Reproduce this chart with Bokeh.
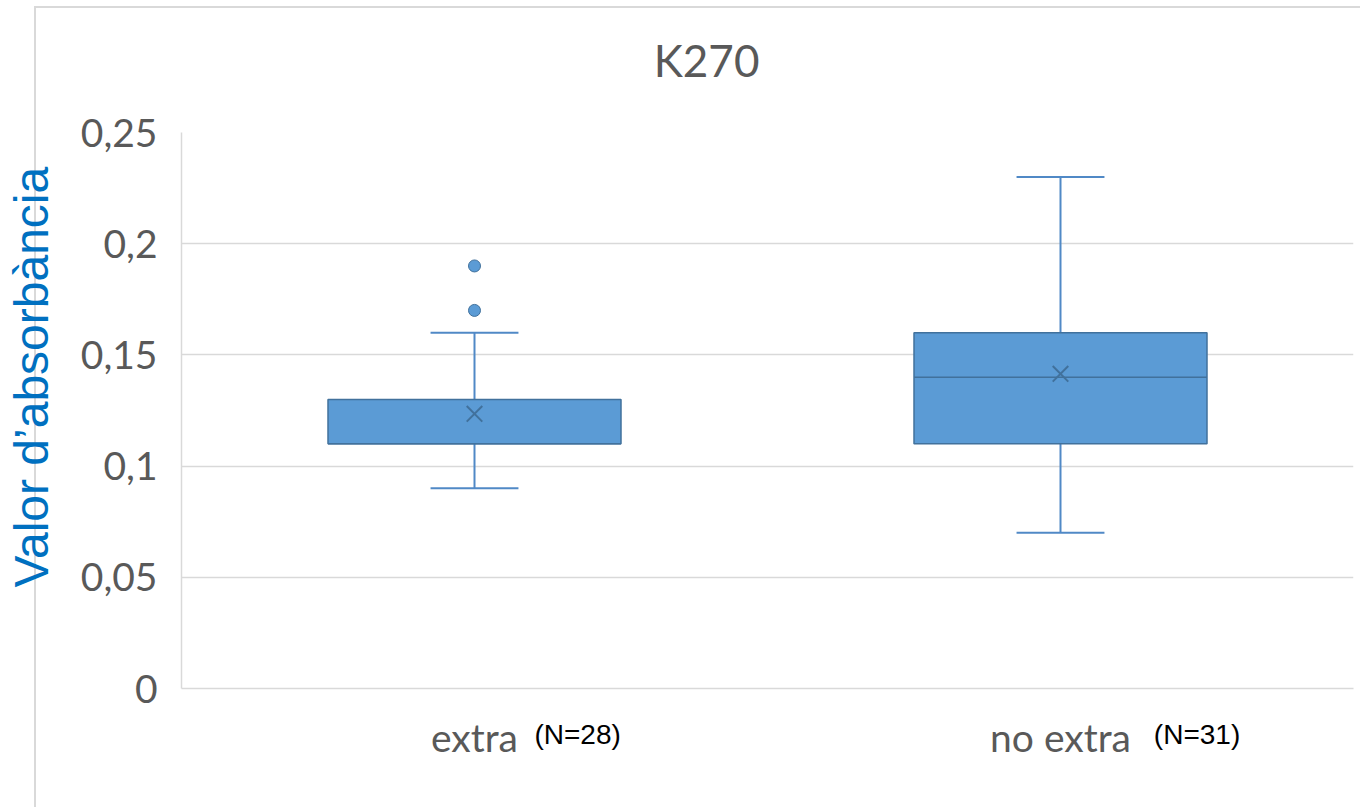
from bokeh.plotting import figure
from bokeh.models import Range1d, FixedTicker, LinearAxis
from bokeh.embed import file_html
from bokeh.resources import INLINE

# ---- data ----
title_text = "K270"
categories = ["extra", "no extra"]
n_labels = ["(N=28)", "(N=31)"]
lower_whisker = [0.09, 0.07]
q1 = [0.11, 0.11]
median = [0.11, 0.14]
q3 = [0.13, 0.16]
upper_whisker = [0.16, 0.23]
means = [0.1235, 0.1415]
outlier_group = [0, 0]
outlier_values = [0.17, 0.19]
y_ticks = [0, 0.05, 0.1, 0.15, 0.2, 0.25]
y_tick_labels = ["0", "0,05", "0,1", "0,15", "0,2", "0,25"]
y_title = "Valor d\u2019absorbància"

xs = [i + 0.5 for i in range(len(categories))]
BOX_W = 0.5
CAP_W = 0.15
SUP_SHIFT = [0.176, 0.233]  # horizontal placement of the superscript N labels
TITLE_POS = 0.896            # horizontal placement of the chart title
Y_TITLE_PAD = "\u00a0" * 5   # lifts the y title a little above the frame centre

FILL = "#5B9BD5"
DARK = "#41719C"
WHISK = "#5089C6"
GRID = "#D9D9D9"
TXT = "#595959"

p = figure(width=1360, height=807, output_backend="svg", toolbar_location=None,
           title_location=None,
           x_range=Range1d(0, len(categories)), y_range=Range1d(0, 0.25),
           min_border_left=181, min_border_right=7, min_border_top=132,
           min_border_bottom=119)
p.outline_line_color = None
p.background_fill_color = "white"
p.border_fill_color = None
p.styles = {
    "background": "linear-gradient(#D9D9D9,#D9D9D9) 34px 6px / 2px 100% no-repeat, "
                  "linear-gradient(#D9D9D9,#D9D9D9) 34px 6px / 100% 2px no-repeat, white"
}

p.xgrid.grid_line_color = None
p.ygrid.grid_line_color = GRID
p.ygrid.grid_line_width = 1.5
p.yaxis.ticker = FixedTicker(ticks=y_ticks)
p.yaxis.major_label_overrides = {t: l for t, l in zip(y_ticks, y_tick_labels)}
p.xaxis.ticker = FixedTicker(ticks=xs)
p.xaxis.major_label_overrides = {x: c for x, c in zip(xs, categories)}
for ax in (p.xaxis, p.yaxis):
    ax.axis_line_color = GRID
    ax.axis_line_width = 1.5
    ax.major_tick_line_color = None
    ax.minor_tick_line_color = None
    ax.major_tick_out = 0
    ax.major_label_text_font = "Lato"
    ax.major_label_text_font_size = "39px"
    ax.major_label_text_color = TXT
p.yaxis.major_label_standoff = 24
p.xaxis.major_label_standoff = 25

# y axis title
p.yaxis.axis_label = Y_TITLE_PAD + y_title
p.yaxis.axis_label_standoff = 20
p.yaxis.axis_label_text_font = "Liberation Sans"
p.yaxis.axis_label_text_font_size = "48px"
p.yaxis.axis_label_text_font_style = "normal"
p.yaxis.axis_label_text_color = "#0070C0"

# superscript sample sizes as a second bottom axis
sup_ticks = [x + s for x, s in zip(xs, SUP_SHIFT)]
sup_axis = LinearAxis(ticker=FixedTicker(ticks=sup_ticks),
                      major_label_overrides={t: l for t, l in zip(sup_ticks, n_labels)},
                      axis_line_color=None, major_tick_line_color=None,
                      minor_tick_line_color=None, major_tick_out=0,
                      major_label_standoff=-44,
                      major_label_text_font="Liberation Sans",
                      major_label_text_font_size="28px",
                      major_label_text_color="black")
p.add_layout(sup_axis, "below")

# chart title, drawn as the single label of a top axis
title_axis = LinearAxis(ticker=FixedTicker(ticks=[TITLE_POS]),
                        major_label_overrides={TITLE_POS: title_text},
                        axis_line_color=None, major_tick_line_color=None,
                        minor_tick_line_color=None, major_tick_out=0,
                        major_label_standoff=47,
                        major_label_text_font="Lato",
                        major_label_text_font_size="44px",
                        major_label_text_color=TXT)
p.add_layout(title_axis, "above")

# whiskers
p.segment(x0=xs, y0=q3, x1=xs, y1=upper_whisker, line_color=WHISK, line_width=2)
p.segment(x0=xs, y0=q1, x1=xs, y1=lower_whisker, line_color=WHISK, line_width=2)
p.segment(x0=[x - CAP_W / 2 for x in xs], y0=upper_whisker,
          x1=[x + CAP_W / 2 for x in xs], y1=upper_whisker, line_color=WHISK, line_width=2)
p.segment(x0=[x - CAP_W / 2 for x in xs], y0=lower_whisker,
          x1=[x + CAP_W / 2 for x in xs], y1=lower_whisker, line_color=WHISK, line_width=2)
# boxes
p.vbar(x=xs, width=BOX_W, top=q3, bottom=q1, fill_color=FILL, line_color=DARK, line_width=1.5)
p.segment(x0=[x - BOX_W / 2 for x in xs], y0=median,
          x1=[x + BOX_W / 2 for x in xs], y1=median, line_color=DARK, line_width=1.5)
# mean markers
p.scatter(x=xs, y=means, marker="x", size=22, line_color=DARK, line_width=2)
# outliers
p.scatter(x=[xs[g] for g in outlier_group], y=outlier_values, marker="circle", size=12,
          fill_color=FILL, line_color=DARK, line_width=1)

open("out.html", "w").write(file_html(p, INLINE))
